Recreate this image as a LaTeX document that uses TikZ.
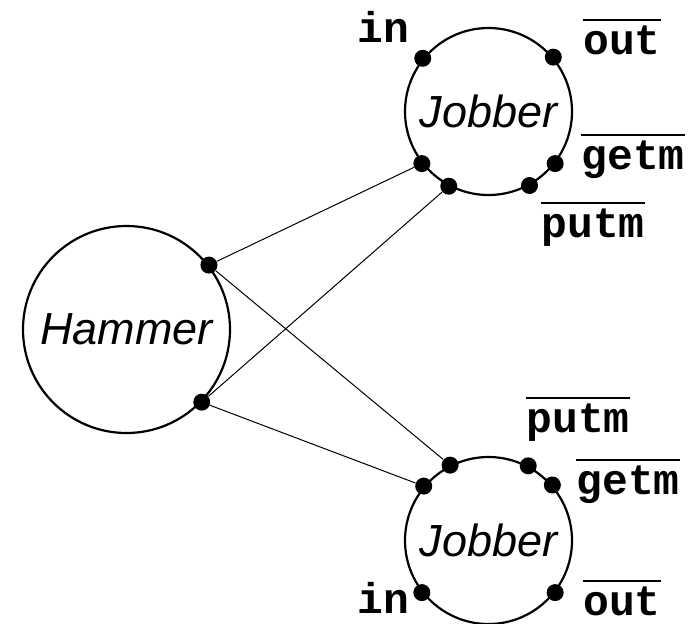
\documentclass[tikz,border=0pt]{standalone}
\usepackage{fontspec}
\setmainfont{Liberation Sans}
\newfontfamily\portfont{Liberation Mono}
% port name with a bar over it
\newcommand\barred[1]{\vbox{\hrule height 1pt \kern 2.5pt \hbox{#1}}}
\begin{document}
\begin{tikzpicture}[x=0.5pt,y=-0.5pt,
  proc/.style={draw, circle, line width=1.1pt, inner sep=0pt,
    font=\fontsize{22.5}{26}\selectfont\itshape},
  port/.style={fill, circle, inner sep=0pt, minimum size=8.5pt},
  plabel/.style={inner sep=0pt, font=\fontsize{21.5}{24}\selectfont\portfont\bfseries},
  wire/.style={line width=0.5pt}]
\useasboundingbox (0,0) rectangle (695,623);

% processes
\node[proc, minimum size=103.5pt] (H) at (126.5,329.5) {Hammer};
\node[proc, minimum size=83.5pt] (J1) at (488.5,111.5) {Jobber};
\node[proc, minimum size=83.5pt] (J2) at (488.5,540.5) {Jobber};

% ports of the hammer
\node[port] (Ha) at (H.38) {};
\node[port] (Hb) at (H.-44) {};

% ports of the upper jobber
\node[port] (J1in)   at (J1.141) {};
\node[port] (J1out)  at (J1.40) {};
\node[port] (J1a)    at (J1.218) {};
\node[port] (J1b)    at (J1.242) {};
\node[port] (J1put)  at (J1.299) {};
\node[port] (J1get)  at (J1.322) {};

% ports of the lower jobber
\node[port] (J2b)    at (J2.117) {};
\node[port] (J2a)    at (J2.140) {};
\node[port] (J2put)  at (J2.62) {};
\node[port] (J2get)  at (J2.41) {};
\node[port] (J2in)   at (J2.218) {};
\node[port] (J2out)  at (J2.322) {};

% port labels
\node[plabel] (l1in)  at (383,27)  {in};
\node[plabel] (l1out) at (622,37)  {\barred{out}};
\node[plabel] (l1get) at (633,156) {\barred{getm}};
\node[plabel] (l1put) at (593,224) {\barred{putm}};
\node[plabel] (l2put) at (578,419) {\barred{putm}};
\node[plabel] (l2get) at (628,481) {\barred{getm}};
\node[plabel] (l2in)  at (383,598) {in};
\node[plabel] (l2out) at (622,598) {\barred{out}};

% channels
\draw[wire] (Ha) -- (J1a);
\draw[wire] (Ha) -- (J2b);
\draw[wire] (Hb) -- (J1b);
\draw[wire] (Hb) -- (J2a);
\end{tikzpicture}
\end{document}
